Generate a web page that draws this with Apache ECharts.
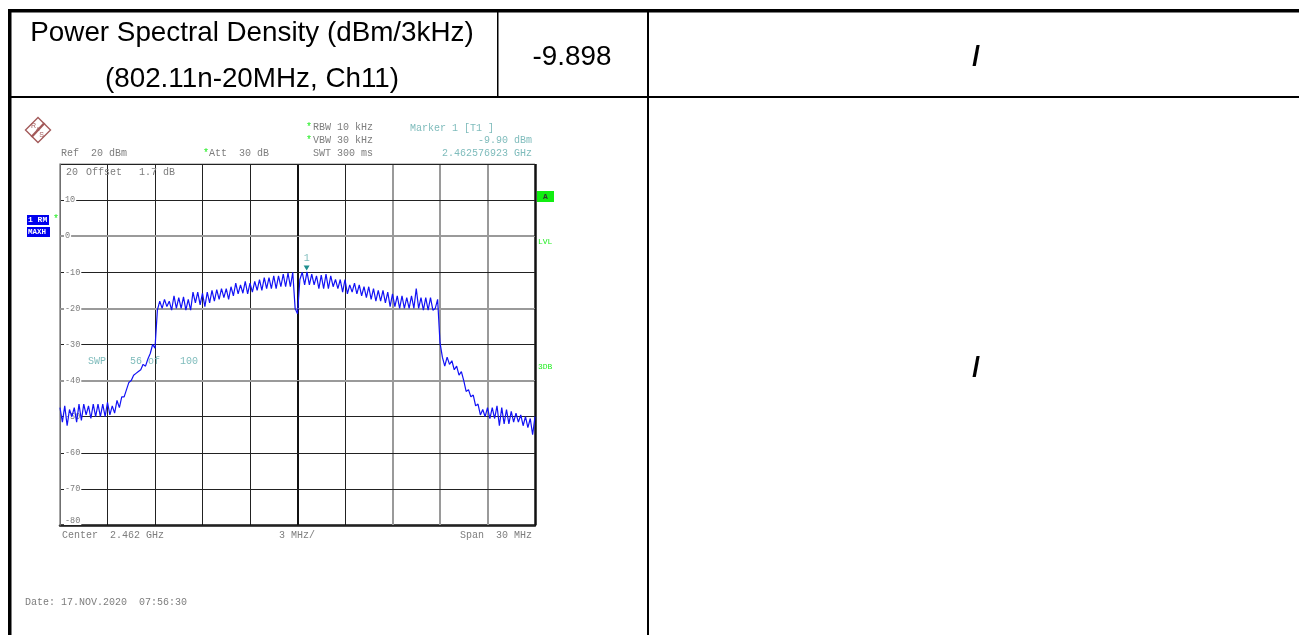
<!DOCTYPE html>
<html><head><meta charset="utf-8">
<style>html,body{margin:0;padding:0;background:#fff}#c{width:1299px;height:635px}</style>
<script src="https://cdn.jsdelivr.net/npm/echarts@6/dist/echarts.min.js"></script>
</head><body><div id="c"></div>
<script>
// Trace sampled every 0.15 MHz across the 30 MHz span, dBm
const spanStartMHz = -15, stepMHz = 0.15;
const traceDbm = [
-47.5,-51.5,-47,-52.5,-48,-50,-47.5,-51.5,-46.5,-51,-46.5,-49.5,-47,-50.5,-46.5,-50,-46.5,-50,-46.5,-50,
-46,-49.5,-47,-49,-45.5,-47.5,-44.5,-44.5,-42.5,-40.5,-40,-38.5,-38,-37.5,-37,-35.5,-36,-34,-32.5,-30,
-31,-20.5,-18,-20,-17.5,-19.5,-18,-20.5,-16.5,-20,-17,-20,-16.8,-20.5,-17.5,-20.5,-15.5,-18.5,-15.5,-19,
-15.8,-19.5,-15.5,-18.5,-15,-18,-14.8,-17.5,-14.5,-17,-14.5,-17.5,-14,-16.5,-13,-16,-13.5,-15.8,-12.5,-16,
-13,-15.5,-12.5,-15,-12,-15,-11.5,-14.5,-11.5,-14.5,-11,-14.5,-11,-14,-10.5,-14,-10.2,-14,-10,-20,
-21.5,-12,-10,-13.5,-9.9,-13.5,-10.5,-13.5,-11,-14.5,-10.8,-14.5,-10.5,-14.5,-11,-14,-12,-14.5,-12,-15.5,
-12,-16,-13.5,-15.5,-13,-16,-13.5,-16.5,-14,-17,-14,-17.5,-14.5,-18,-15,-18,-15,-18.5,-15.5,-19.5,
-16,-19.5,-16.5,-20,-16.5,-20,-17,-20,-16.5,-20,-14.5,-20,-17,-20.5,-17,-20.5,-17,-20.5,-20,-17.5,
-29.5,-33.5,-36,-33.5,-35.5,-34.5,-37,-36,-38.5,-37.5,-40,-43,-42.5,-44.5,-44,-47,-46.5,-49.5,-48,-50,
-47.5,-50.5,-47.5,-50.5,-47,-52.5,-47.5,-52,-48,-52,-48.5,-51.5,-49,-51.5,-49.5,-52.5,-50,-53,-50.5,-55,-50
];
const markerMHz = 0.577, markerDbm = -9.9;
const grayFreqLines = [6, 9, 12];
const grayLevelLines = [0, -20, -40];

const tracePairs = traceDbm.map((v, i) => [spanStartMHz + i * stepMHz, v]);

const M = 'Liberation Mono', S = 'Liberation Sans';
const GREY = '#7d7d7d', TEAL = '#7fbcbc', GREEN = '#22ee22';
const BLK = '#222', GRY = '#9a9a9a';
function t(x, y, text, fill, opts) {
  return { type: 'text', x, y, silent: true, z: 50,
    style: Object.assign({ text, fill, fontFamily: M, fontSize: 10, textAlign: 'left', textVerticalAlign: 'middle' }, opts || {}) };
}
function big(x, y, text, weight) {
  return t(x, y, text, '#000', { fontFamily: S, fontSize: 27.8, fontWeight: weight || 'normal', textAlign: 'center' });
}
function r(x, y, w, h, fill) { return { type: 'rect', silent: true, z: 40, shape: { x, y, width: w, height: h }, style: { fill } }; }

const graphic = [
  // table rules
  r(8, 9, 1291, 3.5, '#000'), r(8, 9, 3.5, 626, '#000'),
  r(8, 96, 1291, 2, '#000'), r(497, 11, 1.5, 86, '#000'), r(647, 11, 2, 624, '#000'),
  // table text
  big(252, 33, 'Power Spectral Density (dBm/3kHz)'),
  big(252, 79, '(802.11n-20MHz, Ch11)'),
  big(572, 57, '-9.898'),
  big(976, 57, '/', 'bold'),
  big(976, 368, '/', 'bold'),
  // logo
  { type: 'polygon', silent: true, z: 40, shape: { points: [[38, 117.5], [50.5, 130], [38, 142.5], [25.5, 130]] }, style: { fill: '#fff', stroke: '#a35a5a', lineWidth: 1.4 } },
  { type: 'line', silent: true, z: 41, shape: { x1: 44.5, y1: 123, x2: 31.5, y2: 137 }, style: { stroke: '#a35a5a', lineWidth: 2.4 } },
  t(33.5, 126, 'R', '#a35a5a', { fontFamily: S, fontSize: 7, textAlign: 'center' }),
  t(38, 130, '&', '#a35a5a', { fontFamily: S, fontSize: 5, textAlign: 'center' }),
  t(41.5, 135, 'S', '#a35a5a', { fontFamily: S, fontSize: 7, textAlign: 'center' }),
  // settings
  t(61, 153, 'Ref  20 dBm', GREY),
  t(209, 153, 'Att  30 dB', GREY),
  t(313, 127, 'RBW 10 kHz', GREY),
  t(313, 140, 'VBW 30 kHz', GREY),
  t(313, 153, 'SWT 300 ms', GREY),
  t(203, 153, '*', GREEN), t(306, 127, '*', GREEN), t(306, 140, '*', GREEN), t(53, 219, '*', GREEN),
  t(410, 128, 'Marker 1 [T1 ]', TEAL),
  t(532, 140, '-9.90 dBm', TEAL, { textAlign: 'right' }),
  t(532, 153, '2.462576923 GHz', TEAL, { textAlign: 'right' }),
  // overlay text in plot
  t(66, 172, '20', GREY), t(86, 172, 'Offset', GREY), t(139, 172, '1.7', GREY), t(163, 172, 'dB', GREY),
  t(88, 361, 'SWP', TEAL), t(130, 361, '56 of', TEAL), t(180, 361, '100', TEAL),
  // side flags
  r(27, 215, 22, 10, '#0000ee'), t(28, 220, '1 RM', '#fff', { fontWeight: 'bold', fontSize: 8 }),
  r(27, 227, 23, 10, '#0000ee'), t(28, 232, 'MAXH', '#fff', { fontWeight: 'bold', fontSize: 7.5 }),
  r(537, 191, 17, 11, '#11ee11'), t(545.5, 196.5, 'A', '#333', { fontWeight: 'bold', fontSize: 8, textAlign: 'center' }),
  t(538, 242, 'LVL', GREEN, { fontSize: 8 }),
  t(538, 367, '3DB', GREEN, { fontSize: 8 }),
  // footer
  t(62, 535, 'Center  2.462 GHz', GREY),
  t(279, 535, '3 MHz/', GREY),
  t(532, 535, 'Span  30 MHz', GREY, { textAlign: 'right' }),
  t(25, 602, 'Date: 17.NOV.2020  07:56:30', GREY)
];

const solid = (color, width) => ({ color, width, type: 'solid' });
const lineData = [
  ...grayFreqLines.map(v => ({ xAxis: v, lineStyle: solid(GRY, 2) })),
  ...grayLevelLines.map(v => ({ yAxis: v, lineStyle: solid(GRY, 2) })),
  { xAxis: 0, lineStyle: solid('#111', 2) },
  { xAxis: 15, lineStyle: solid('#111', 2.5) }
];

const chart = echarts.init(document.getElementById('c'), null, { renderer: 'canvas' });
chart.setOption({
  animation: false,
  backgroundColor: '#fff',
  graphic,
  grid: { left: 60, right: 764, top: 164, bottom: 110, show: false },
  xAxis: {
    type: 'value', min: -15, max: 15, interval: 3,
    axisLine: { show: true, onZero: false, lineStyle: { color: '#111', width: 2.5 } },
    axisTick: { show: false }, axisLabel: { show: false },
    splitLine: { show: true, lineStyle: { color: [BLK, BLK, BLK, BLK, BLK, BLK, BLK, GRY, GRY, GRY, BLK], width: 1 } }
  },
  yAxis: {
    type: 'value', min: -80, max: 20, interval: 10,
    axisLine: { show: true, onZero: false, lineStyle: { color: '#8a8a8a', width: 1.5 } },
    axisTick: { show: false },
    axisLabel: {
      inside: true, margin: 4, color: GREY, fontFamily: M, fontSize: 8.5,
      backgroundColor: '#fff', padding: [0, 1],
      formatter: v => (v === 20 ? '' : String(v)),
      verticalAlignMinLabel: 'bottom', verticalAlignMaxLabel: 'top'
    },
    splitLine: { show: true, lineStyle: { color: [BLK, BLK, BLK, BLK, GRY, BLK, GRY, BLK, GRY, BLK, BLK], width: 1 } },
    z: 5
  },
  series: [{
    type: 'line', data: tracePairs, showSymbol: false, silent: true, z: 10,
    lineStyle: { color: '#1212f5', width: 1.2 },
    markLine: { silent: true, symbol: 'none', label: { show: false }, animation: false, z: 4, data: lineData },
    markPoint: {
      silent: true, animation: false,
      data: [{ coord: [markerMHz, markerDbm], symbol: 'triangle', symbolRotate: 180, symbolSize: [6, 5], symbolOffset: [0, -4],
        itemStyle: { color: '#1f8f8f' },
        label: { show: true, position: 'top', distance: 2, formatter: '1', color: TEAL, fontFamily: M, fontSize: 10 } }]
    }
  }, {
    type: 'line', data: [[-15, 20], [15, 20]], showSymbol: false, silent: true, z: 3,
    lineStyle: { color: '#222', width: 1 }
  }]
});
</script></body></html>
